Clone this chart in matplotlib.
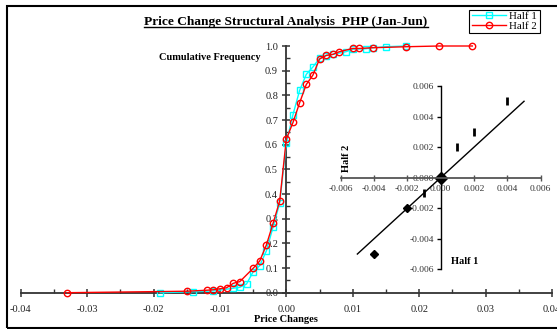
import matplotlib
matplotlib.use("Agg")
import matplotlib.pyplot as plt
from matplotlib.ticker import MultipleLocator, FormatStrFormatter
from matplotlib.lines import Line2D
from matplotlib.patches import Rectangle

# ---- data ----
half1_x = [-0.019, -0.014, -0.011, -0.008, -0.007, -0.006, -0.005, -0.004, -0.003, -0.002, -0.001,
           0.000, 0.001, 0.002, 0.003, 0.004, 0.005, 0.006, 0.007, 0.009, 0.010, 0.012, 0.013, 0.015, 0.018]
half1_y = [0.0, 0.004, 0.007, 0.018, 0.022, 0.035, 0.085, 0.11, 0.17, 0.266, 0.363,
           0.607, 0.722, 0.82, 0.885, 0.915, 0.95, 0.961, 0.966, 0.977, 0.987, 0.989, 0.993, 0.997, 1.0]

half2_x = [-0.033, -0.015, -0.012, -0.011, -0.010, -0.009, -0.008, -0.007, -0.005, -0.004, -0.003,
           -0.002, -0.001, 0.000, 0.001, 0.002, 0.003, 0.004, 0.005, 0.006, 0.007, 0.008, 0.010,
           0.011, 0.013, 0.018, 0.023, 0.028]
half2_y = [0.0, 0.006, 0.010, 0.012, 0.016, 0.020, 0.038, 0.045, 0.099, 0.129, 0.194,
           0.281, 0.372, 0.623, 0.69, 0.77, 0.844, 0.882, 0.947, 0.962, 0.966, 0.977, 0.99,
           0.99, 0.993, 0.997, 1.0, 1.0]

# inset: quantile comparison Half 1 vs Half 2
qq_diam_x = [-0.004, -0.002, 0.000]
qq_diam_y = [-0.005, -0.002, 0.000]
qq_bar_x = [-0.001, 0.001, 0.002, 0.004]
qq_bar_y = [-0.001, 0.002, 0.003, 0.005]
ref_line = [-0.005, 0.005]

plt.rcParams['font.family'] = ['Liberation Serif', 'DejaVu Serif']

W, H = 557, 329
fig = plt.figure(figsize=(W / 100, H / 100), dpi=100)

def fx(px):
    return px / W

def fy(py):
    return 1 - py / H

# outer frame
fig.patches.append(Rectangle((fx(7), fy(327.5)), 1.2, fy(5.5) - fy(327.5), transform=fig.transFigure,
                             fill=False, edgecolor='black', linewidth=1.5))

# main axes
ax = fig.add_axes([fx(20.7), fy(292.7), fx(552) - fx(20.7), fy(46) - fy(292.7)])
ax.patch.set_alpha(0)
ax.plot(half1_x, half1_y, color='#00FFFF', lw=1.0, marker='s', ms=4.6, mfc='none',
        mew=1.0, label='Half 1', clip_on=False, zorder=3)
ax.plot(half2_x, half2_y, color='#FF0000', lw=1.0, marker='o', ms=4.6, mfc='none',
        mew=1.0, label='Half 2', clip_on=False, zorder=4)
ax.set_xlim(-0.04, 0.04)
ax.set_ylim(0, 1.0)
for s in ['top', 'right']:
    ax.spines[s].set_visible(False)
ax.spines['left'].set_position(('data', 0))
ax.spines['bottom'].set_position(('data', 0))
for s in ['left', 'bottom']:
    ax.spines[s].set_color('#333333')
    ax.spines[s].set_linewidth(1.3)
ax.xaxis.set_major_locator(MultipleLocator(0.01))
ax.xaxis.set_minor_locator(MultipleLocator(0.005))
ax.yaxis.set_major_locator(MultipleLocator(0.1))
ax.yaxis.set_minor_locator(MultipleLocator(0.05))
ax.xaxis.set_major_formatter(FormatStrFormatter('%.2f'))
ax.yaxis.set_major_formatter(FormatStrFormatter('%.1f'))
ax.tick_params(which='major', direction='inout', length=6, width=1.1, color='#333333',
               labelsize=7.5, labelcolor='#222222')
ax.tick_params(which='minor', direction='in', length=3, width=1.0, color='#333333')
ax.tick_params(axis='x', which='major', pad=6)
ax.tick_params(axis='y', which='major', pad=3)

ax.legend(loc='upper right', bbox_to_anchor=(fx(539.5), fy(9.5)), bbox_transform=fig.transFigure,
          fontsize=7.8, frameon=True, fancybox=False, edgecolor='black', framealpha=1,
          borderpad=0.2, labelspacing=0.0, handlelength=3.2, handletextpad=0.3,
          borderaxespad=0)
leg = ax.get_legend()
leg.get_frame().set_linewidth(0.8)

fig.text(fx(210), fy(57), 'Cumulative Frequency', fontsize=7.5, fontweight='bold',
         ha='center', va='center')
fig.text(fx(286), fy(319), 'Price Changes', fontsize=7.5, fontweight='bold',
         ha='center', va='center')
title = fig.text(fx(286), fy(22.5), 'Price Change Structural Analysis  PHP (Jan-Jun)', fontsize=9.6,
                 fontweight='bold', ha='center', va='center')

# inset axes
ix = fig.add_axes([fx(340.7), fy(269.3), fx(540.7) - fx(340.7), fy(86) - fy(269.3)])
ix.patch.set_alpha(0)
ix.plot(ref_line, ref_line, color='black', lw=1.0)
ix.plot(qq_diam_x, qq_diam_y, linestyle='none', marker='D', ms=4.5, color='black')
ix.plot([qq_diam_x[-1]], [qq_diam_y[-1]], linestyle='none', marker='D', ms=6, color='black')
ix.plot(qq_bar_x, qq_bar_y, linestyle='none', marker='|', ms=6, mew=2.0, color='black')
ix.set_xlim(-0.006, 0.006)
ix.set_ylim(-0.006, 0.006)
for s in ['top', 'right']:
    ix.spines[s].set_visible(False)
ix.spines['left'].set_position(('data', 0))
ix.spines['bottom'].set_position(('data', 0))
ix.spines['left'].set_color('black')
ix.spines['bottom'].set_color('#555555')
ix.spines['left'].set_linewidth(1.0)
ix.spines['bottom'].set_linewidth(1.3)
ix.xaxis.set_major_locator(MultipleLocator(0.002))
ix.yaxis.set_major_locator(MultipleLocator(0.002))
ix.xaxis.set_major_formatter(FormatStrFormatter('%.3f'))
ix.yaxis.set_major_formatter(FormatStrFormatter('%.3f'))
ix.tick_params(axis='x', direction='inout', length=5, width=1.0, color='#555555',
               labelsize=6.8, labelcolor='#333333', pad=3)
ix.tick_params(axis='y', direction='out', length=3, width=1.0, color='black',
               labelsize=6.8, labelcolor='#333333', pad=2)

fig.text(fx(346.7), fy(158), 'Half 2', fontsize=7.5, fontweight='bold', rotation=90,
         ha='center', va='center')
fig.text(fx(465), fy(262), 'Half 1', fontsize=7.5, fontweight='bold', ha='center', va='center')

# underline title
fig.canvas.draw()
bb = title.get_window_extent()
uy = (bb.y0 + 1.5) / H
fig.add_artist(Line2D([bb.x0 / W, bb.x1 / W], [uy, uy], transform=fig.transFigure,
                      color='black', lw=1.0))

fig.savefig('out.png', dpi=100)
